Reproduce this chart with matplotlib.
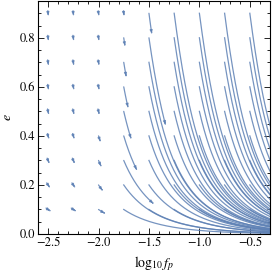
import numpy as np
import matplotlib
matplotlib.use("Agg")
import matplotlib.pyplot as plt
from matplotlib.patches import FancyArrowPatch
from matplotlib.path import Path
from matplotlib.ticker import MultipleLocator

plt.rcParams['font.family'] = 'STIXGeneral'
plt.rcParams['mathtext.fontset'] = 'stix'

# seed grid of the stream plot
seed_x = [-2.5, -2.25, -2.0, -1.75, -1.5, -1.25, -1.0, -0.75, -0.5]
seed_e = [0.1, 0.2, 0.3, 0.4, 0.5, 0.6, 0.7, 0.8, 0.9]

xlim = (-2.6, -0.3)
ylim = (0.0, 0.95)
line_col = '#5e81b5'
t_max = 0.85      # integration time of each stream
min_len = 5.0     # shortest stream drawn, pixels


def h(e):
    # Peters (1964) track: log10 f_p as a function of e, up to a constant
    return (-18.0 / 19.0 * np.log10(e)
            - 1.5 * (870.0 / 2299.0) * np.log10(1 + 121.0 / 304.0 * e**2)
            + 1.1954 * np.log10(1 + e))


def rate(x, e):
    # |de/dt| in arbitrary units
    return (e * (1 + 121.0 / 304.0 * e**2) * (1 - e**2)**1.5
            * (1 + e)**(-3.188) * 10**(8.0 / 3.0 * (x + 1.75)))


fig = plt.figure(figsize=(2.74, 2.74), dpi=100)
ax = fig.add_axes([38 / 274, 40 / 274, 232 / 274, 233 / 274])
ax.set_xlim(*xlim)
ax.set_ylim(*ylim)

sx = 232 / (xlim[1] - xlim[0])
sy = 233 / (ylim[1] - ylim[0])

for x0 in seed_x:
    for e0 in seed_e:
        ee = np.geomspace(e0, 1e-4, 4000)
        xx = x0 + h(ee) - h(e0)
        r = rate(xx, ee)
        dt = 0.5 * (1 / r[1:] + 1 / r[:-1]) * (ee[:-1] - ee[1:])
        tt = np.concatenate([[0], np.cumsum(dt)])
        ds = np.hypot(np.diff(xx) * sx, np.diff(ee) * sy)
        ss = np.concatenate([[0], np.cumsum(ds)])
        inside = xx <= xlim[1]
        keep = (tt <= t_max) & inside
        n = np.argmin(keep) if not keep.all() else len(keep)
        head = True
        if n < len(keep) and not inside[n]:
            head = False
        if ss[max(n - 1, 0)] < min_len:
            # short stream centred on the seed
            eu = np.linspace(min(e0 + 0.06, 0.999), e0, 400)
            xu = x0 + h(eu) - h(e0)
            dsu = np.hypot(np.diff(xu) * sx, np.diff(eu) * sy)
            su = np.concatenate([[0], np.cumsum(dsu)])
            su = su[-1] - su
            up = su <= min_len / 2
            dn = ss <= min_len / 2
            px = np.concatenate([xu[up], xx[dn][1:]])
            py = np.concatenate([eu[up], ee[dn][1:]])
            head = True
        else:
            px = xx[:n]
            py = ee[:n]
        if head:
            arr = FancyArrowPatch(path=Path(np.column_stack([px, py])),
                                  arrowstyle='-|>,head_length=1.6,head_width=0.7',
                                  color=line_col, lw=0.9, alpha=0.85,
                                  shrinkA=0, shrinkB=0, transform=ax.transData)
            ax.add_patch(arr)
        else:
            ax.plot(px, py, color=line_col, lw=0.9, alpha=0.85)

ax.xaxis.set_major_locator(MultipleLocator(0.5))
ax.xaxis.set_minor_locator(MultipleLocator(0.1))
ax.yaxis.set_major_locator(MultipleLocator(0.2))
ax.yaxis.set_minor_locator(MultipleLocator(0.05))
ax.tick_params(which='both', direction='in', top=True, right=True,
               labelsize=9, width=0.6, pad=2)
ax.tick_params(which='major', length=4)
ax.tick_params(which='minor', length=2)
for sp in ax.spines.values():
    sp.set_linewidth(0.8)

ax.set_xlabel(r'$\log_{10} f_p$', fontsize=10, labelpad=4)
ax.set_ylabel(r'$e$', fontsize=10, labelpad=4)

fig.savefig('out.png', dpi=100)
